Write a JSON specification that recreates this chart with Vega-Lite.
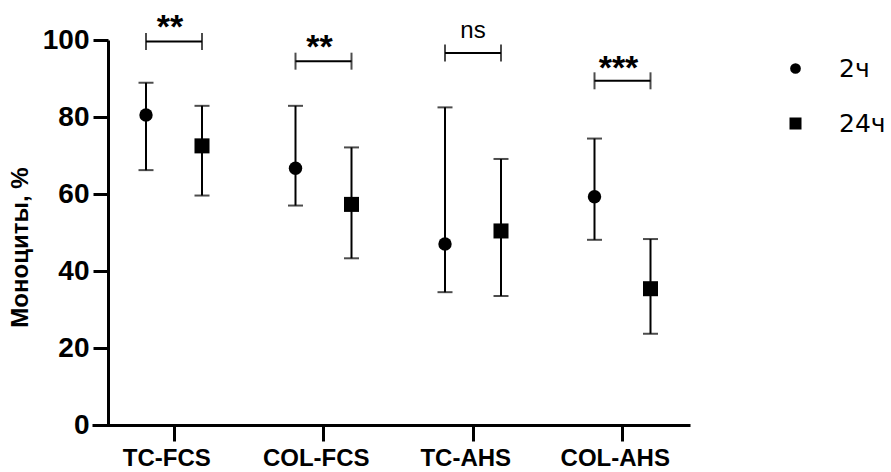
{
  "$schema": "https://vega.github.io/schema/vega-lite/v6.json",
  "width": 598,
  "height": 385,
  "autosize": {"type": "none"},
  "padding": {"left": 92, "top": 40, "right": 201, "bottom": 47},
  "background": "white",
  "config": {"view": {"stroke": null}, "font": "Liberation Sans"},
  "datasets": {
    "points": [
      {"group": "TC-FCS", "time": "2ч", "mean": 80.5, "low": 66.2, "high": 88.9},
      {"group": "TC-FCS", "time": "24ч", "mean": 72.5, "low": 59.6, "high": 82.9},
      {"group": "COL-FCS", "time": "2ч", "mean": 66.7, "low": 57.0, "high": 82.9},
      {"group": "COL-FCS", "time": "24ч", "mean": 57.3, "low": 43.3, "high": 72.1},
      {"group": "TC-AHS", "time": "2ч", "mean": 47.0, "low": 34.5, "high": 82.5},
      {"group": "TC-AHS", "time": "24ч", "mean": 50.4, "low": 33.5, "high": 69.1},
      {"group": "COL-AHS", "time": "2ч", "mean": 59.3, "low": 48.1, "high": 74.4},
      {"group": "COL-AHS", "time": "24ч", "mean": 35.4, "low": 23.7, "high": 48.3}
    ],
    "brackets": [
      {"group": "TC-FCS", "time": "2ч", "bar": 99.6},
      {"group": "TC-FCS", "time": "24ч", "bar": 99.6},
      {"group": "COL-FCS", "time": "2ч", "bar": 94.5},
      {"group": "COL-FCS", "time": "24ч", "bar": 94.5},
      {"group": "TC-AHS", "time": "2ч", "bar": 96.6},
      {"group": "TC-AHS", "time": "24ч", "bar": 96.6},
      {"group": "COL-AHS", "time": "2ч", "bar": 89.4},
      {"group": "COL-AHS", "time": "24ч", "bar": 89.4}
    ],
    "labels": [
      {"group": "TC-FCS", "label": "**", "pos": 100.6},
      {"group": "COL-FCS", "label": "**", "pos": 95.2},
      {"group": "TC-AHS", "label": "ns", "pos": 100.5},
      {"group": "COL-AHS", "label": "***", "pos": 90.0}
    ]
  },
  "encoding": {
    "x": {
      "field": "group", "type": "nominal",
      "sort": ["TC-FCS", "COL-FCS", "TC-AHS", "COL-AHS"],
      "scale": {"type": "band", "paddingInner": 0, "paddingOuter": 0},
      "axis": {
        "title": null, "labelAngle": 0, "grid": false,
        "domainWidth": 3, "domainColor": "black",
        "tickColor": "black", "tickWidth": 3, "tickSize": 16,
        "bandPosition": 0.5485,
        "labelFont": "Liberation Sans", "labelFontWeight": "bold",
        "labelFontSize": 24, "labelColor": "black", "labelPadding": 5
      }
    }
  },
  "layer": [
    {
      "data": {"name": "points"},
      "mark": {"type": "rule", "color": "black", "strokeWidth": 2},
      "encoding": {
        "xOffset": {"field": "time", "type": "nominal", "sort": ["2ч", "24ч"], "scale": {"type": "point", "range": [54, 110], "padding": 0}},
        "y": {
          "field": "low", "type": "quantitative",
          "scale": {"domain": [0, 100], "nice": false},
          "axis": {
            "title": "Моноциты, %", "values": [0, 20, 40, 60, 80, 100],
            "offset": -16, "grid": false,
            "domainWidth": 3, "domainColor": "black",
            "tickColor": "black", "tickWidth": 3, "tickSize": 15,
            "labelFont": "Liberation Sans", "labelFontWeight": "bold",
            "labelFontSize": 28, "labelColor": "black", "labelPadding": 4,
            "titleFont": "Liberation Sans", "titleFontWeight": "bold",
            "titleFontSize": 24, "titleColor": "black",
            "titleX": -88, "titleY": 207, "titleAngle": -90,
            "titleAlign": "center", "titleBaseline": "middle"
          }
        },
        "y2": {"field": "high"}
      }
    },
    {
      "data": {"name": "points"},
      "mark": {"type": "tick", "orient": "horizontal", "color": "black", "size": 15, "thickness": 2},
      "encoding": {
        "xOffset": {"field": "time", "type": "nominal", "sort": ["2ч", "24ч"]},
        "y": {"field": "low", "type": "quantitative"}
      }
    },
    {
      "data": {"name": "points"},
      "mark": {"type": "tick", "orient": "horizontal", "color": "black", "size": 15, "thickness": 2},
      "encoding": {
        "xOffset": {"field": "time", "type": "nominal", "sort": ["2ч", "24ч"]},
        "y": {"field": "high", "type": "quantitative"}
      }
    },
    {
      "data": {"name": "points"},
      "mark": {"type": "point", "filled": true, "color": "black", "opacity": 1, "size": 180},
      "encoding": {
        "xOffset": {"field": "time", "type": "nominal", "sort": ["2ч", "24ч"]},
        "y": {"field": "mean", "type": "quantitative"},
        "shape": {
          "field": "time", "type": "nominal",
          "scale": {"domain": ["2ч", "24ч"], "range": ["circle", "M-1.12,-1.12H1.12V1.12H-1.12Z"]},
          "legend": {
            "title": null, "orient": "none", "legendX": 691, "legendY": 16,
            "padding": 0, "symbolSize": 115, "symbolFillColor": "black",
            "symbolStrokeColor": "black", "symbolStrokeWidth": 0,
            "labelFont": "DejaVu Sans", "labelFontSize": 25,
            "labelColor": "black", "labelOffset": 31, "rowPadding": 29
          }
        }
      }
    },
    {
      "data": {"name": "brackets"},
      "mark": {"type": "line", "color": "black", "strokeWidth": 2},
      "encoding": {
        "xOffset": {"field": "time", "type": "nominal", "sort": ["2ч", "24ч"]},
        "y": {"field": "bar", "type": "quantitative"},
        "detail": {"field": "group"}
      }
    },
    {
      "data": {"name": "brackets"},
      "mark": {"type": "tick", "orient": "vertical", "color": "black", "size": 17, "thickness": 2},
      "encoding": {
        "xOffset": {"field": "time", "type": "nominal", "sort": ["2ч", "24ч"]},
        "y": {"field": "bar", "type": "quantitative"}
      }
    },
    {
      "data": {"name": "labels"},
      "transform": [{"filter": "datum.label !== 'ns'"}],
      "mark": {"type": "text", "font": "Liberation Sans", "fontWeight": "bold", "fontSize": 34, "baseline": "alphabetic", "align": "center", "dx": -4, "color": "black"},
      "encoding": {
        "x": {"field": "group", "type": "nominal", "sort": ["TC-FCS", "COL-FCS", "TC-AHS", "COL-AHS"], "bandPosition": 0.5485},
        "y": {"field": "pos", "type": "quantitative"},
        "text": {"field": "label"}
      }
    },
    {
      "data": {"name": "labels"},
      "transform": [{"filter": "datum.label === 'ns'"}],
      "mark": {"type": "text", "font": "Liberation Sans", "fontSize": 24, "baseline": "alphabetic", "align": "center", "color": "black"},
      "encoding": {
        "x": {"field": "group", "type": "nominal", "sort": ["TC-FCS", "COL-FCS", "TC-AHS", "COL-AHS"], "bandPosition": 0.5485},
        "y": {"field": "pos", "type": "quantitative"},
        "text": {"field": "label"}
      }
    }
  ]
}
